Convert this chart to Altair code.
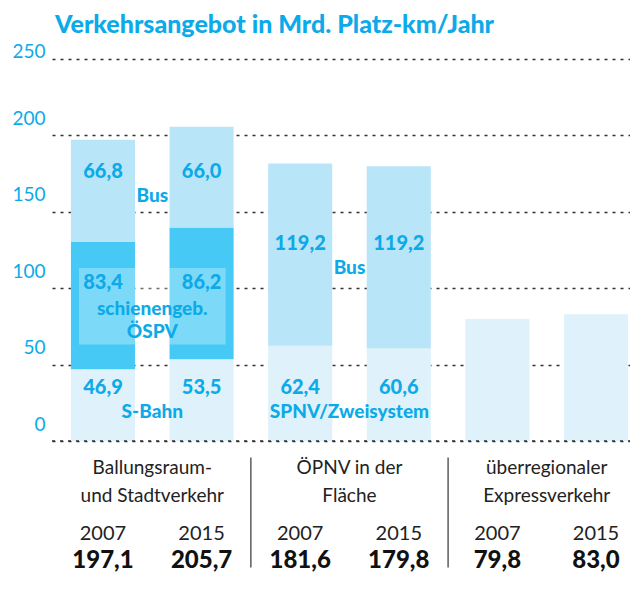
import altair as alt
import pandas as pd

# ---------------- data ----------------
title_text = "Verkehrsangebot in Mrd. Platz-km/Jahr"
group_line1 = ["Ballungsraum-", "ÖPNV in der", "überregionaler"]
group_line2 = ["und Stadtverkehr", "Fläche", "Expressverkehr"]
years = ["2007", "2015", "2007", "2015", "2007", "2015"]
bar_group = [0, 0, 1, 1, 2, 2]
# stacked segments per bar (bottom -> top)
bottom_vals = [46.9, 53.5, 62.4, 60.6, 79.8, 83.0]   # S-Bahn / SPNV-Zweisystem / Express
middle_vals = [83.4, 86.2, 0.0, 0.0, 0.0, 0.0]      # schienengeb. ÖSPV
top_vals = [66.8, 66.0, 119.2, 119.2, 0.0, 0.0]     # Bus
bottom_names = ["S-Bahn", "SPNV/Zweisystem", None]
middle_names = [["schienengeb.", "ÖSPV"], None, None]
top_names = ["Bus", "Bus", None]
y_ticks = [0, 50, 100, 150, 200, 250]

# ---------------- layout / style ----------------
W, H = 578, 382
XMIN, XMAX = -0.517, 5.345
PPU = H / 250.0                 # pixels per unit
UX = (XMAX - XMIN) / W          # x units per pixel
BAR_HALF = 0.325
CYAN = "#0caae8"
DARK = "#222222"
FONT = "Lato"
seg_keys = ["bottom", "middle", "top"]
seg_colors = ["#dff2fb", "#46c9f5", "#b9e5f8"]

def de(v):
    return f"{v:.1f}".replace(".", ",")

# bars
rows = []
for i in range(6):
    base = 0.0
    for key, vals in zip(seg_keys, [bottom_vals, middle_vals, top_vals]):
        v = vals[i]
        if v > 0:
            rows.append(dict(x=i - BAR_HALF, x2=i + BAR_HALF, y=base, y2=base + v, seg=key))
        base += v
bars_df = pd.DataFrame(rows)

xs = alt.Scale(domain=[XMIN, XMAX], nice=False, zero=False)
ys = alt.Scale(domain=[0, 250], nice=False)

bars = alt.Chart(bars_df).mark_rect().encode(
    x=alt.X("x:Q", scale=xs, axis=None),
    x2="x2:Q",
    y=alt.Y("y:Q", scale=ys, axis=alt.Axis(
        values=y_ticks, grid=True, gridDash=[3, 5], gridColor="#333333", gridWidth=1.6,
        domain=False, ticks=False, labelColor=CYAN, labelFont=FONT, labelFontSize=19,
        labelPadding=7, title=None,
        labelOffset={"condition": {"test": "datum.value == 250", "value": -8}, "value": -17},
    )),
    y2="y2:Q",
    color=alt.Color("seg:N", scale=alt.Scale(domain=seg_keys, range=seg_colors), legend=None),
)

# label rows
num_rows, name_rows = [], []
for g in range(3):
    idx = [i for i in range(6) if bar_group[i] == g]
    gx = sum(idx) / len(idx)
    if bottom_names[g]:
        for i in idx:
            num_rows.append(dict(x=i, y=53.5 / PPU, t=de(bottom_vals[i])))
        name_rows.append(dict(x=gx, y=28.8 / PPU, t=bottom_names[g]))
    if middle_names[g]:
        mid = sum(bottom_vals[i] + middle_vals[i] / 2 for i in idx) / len(idx)
        for i in idx:
            num_rows.append(dict(x=i, y=mid + 17 / PPU, t=de(middle_vals[i])))
        for k, nm in enumerate(middle_names[g]):
            name_rows.append(dict(x=gx, y=mid - (9 + 23 * k) / PPU, t=nm))
        box_df = pd.DataFrame([dict(x=idx[0] - BAR_HALF + 8 * UX, x2=idx[-1] + BAR_HALF - 8 * UX,
                                    y=mid - 45 / PPU, y2=mid + 31.6 / PPU)])
    if top_names[g]:
        mid = sum(bottom_vals[i] + middle_vals[i] + top_vals[i] / 2 for i in idx) / len(idx)
        for i in idx:
            num_rows.append(dict(x=i, y=mid + 11.5 / PPU, t=de(top_vals[i])))
        name_rows.append(dict(x=gx, y=mid - 12 / PPU, t=top_names[g]))

box = alt.Chart(box_df).mark_rect(color="white", opacity=0.3).encode(
    x=alt.X("x:Q", scale=xs), x2="x2:Q", y=alt.Y("y:Q", scale=ys), y2="y2:Q")

nums = alt.Chart(pd.DataFrame(num_rows)).mark_text(
    font=FONT, fontWeight=900, fontSize=20, color=CYAN, baseline="middle").encode(
    x=alt.X("x:Q", scale=xs), y=alt.Y("y:Q", scale=ys), text="t:N")
names = alt.Chart(pd.DataFrame(name_rows)).mark_text(
    font=FONT, fontWeight=900, fontSize=19, color=CYAN, baseline="middle").encode(
    x=alt.X("x:Q", scale=xs), y=alt.Y("y:Q", scale=ys), text="t:N")

zero = alt.Chart(pd.DataFrame({"y": [0]})).mark_rule(
    strokeDash=[3, 5], color="#333333", strokeWidth=1.6).encode(
    y=alt.Y("y:Q", scale=ys), x=alt.value(0), x2=alt.value(W))

# bottom texts
gx_list = [0.5, 2.5, 4.5]
grp_df = pd.DataFrame({"x": gx_list, "l1": group_line1, "l2": group_line2})
totals = [bottom_vals[i] + middle_vals[i] + top_vals[i] for i in range(6)]
bar_df = pd.DataFrame({"x": list(range(6)), "year": years, "total": [de(t) for t in totals]})

g1 = alt.Chart(grp_df).mark_text(font=FONT, fontSize=19, color=DARK, baseline="middle").encode(
    x=alt.X("x:Q", scale=xs), y=alt.value(H + 26.5), text="l1:N")
g2 = alt.Chart(grp_df).mark_text(font=FONT, fontSize=19, color=DARK, baseline="middle").encode(
    x=alt.X("x:Q", scale=xs), y=alt.value(H + 55), text="l2:N")
yr = alt.Chart(bar_df).mark_text(font=FONT, fontSize=20, color=DARK, baseline="middle").encode(
    x=alt.X("x:Q", scale=xs), y=alt.value(H + 92.5), text="year:N")
tot = alt.Chart(bar_df).mark_text(font=FONT, fontSize=24, fontWeight=900, color="#111111",
                                  baseline="middle").encode(
    x=alt.X("x:Q", scale=xs), y=alt.value(H + 120), text="total:N")
sep = alt.Chart(pd.DataFrame({"x": [1.5, 3.5]})).mark_rule(color="#333333", strokeWidth=1.2).encode(
    x=alt.X("x:Q", scale=xs), y=alt.value(H + 16.5), y2=alt.value(H + 126.5))

title = alt.Chart(pd.DataFrame({"t": [title_text]})).mark_text(
    font=FONT, fontSize=25, fontWeight=900, color=CYAN, align="left", baseline="alphabetic").encode(
    x=alt.value(3), y=alt.value(-26), text="t:N")

chart = alt.layer(bars, box, nums, names, zero, g1, g2, yr, tot, sep, title).properties(
    width=W, height=H,
    autosize=alt.AutoSizeParams(type="none"),
    padding={"left": 44, "top": 51, "right": 0, "bottom": 140},
).configure_view(stroke=None)

chart.save("out.html", embed_options={"renderer": "svg", "actions": False})
